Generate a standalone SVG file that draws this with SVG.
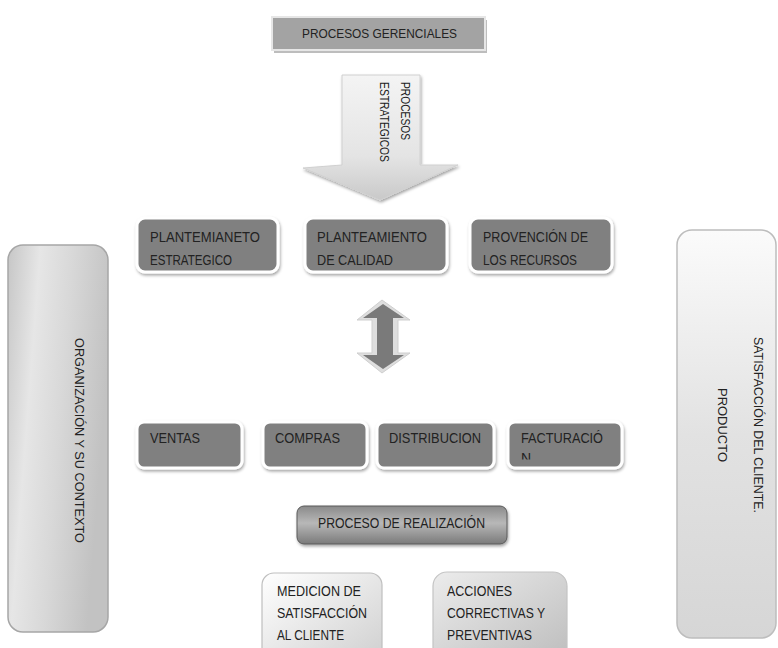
<svg xmlns="http://www.w3.org/2000/svg" width="778" height="648" viewBox="0 0 778 648">
<style>
  .t { font-family: "Liberation Sans", Arial, sans-serif; font-size: 14px; fill: #222222; }
  .r { font-size: 13px; }
  .s { font-size: 12px; }
  .dark { fill: #808080; stroke: #ffffff; stroke-width: 3; filter: url(#sh); }
</style>
<defs>
  <filter id="sh" x="-10%" y="-20%" width="120%" height="140%">
    <feDropShadow dx="1" dy="2" stdDeviation="1.5" flood-color="#000" flood-opacity="0.35"/>
  </filter>
  <clipPath id="clipN">
    <rect x="510" y="440" width="60" height="19.5"/>
  </clipPath>
  <linearGradient id="gLeft" x1="0" y1="0" x2="1" y2="0.3">
    <stop offset="0" stop-color="#c6c6c6"/>
    <stop offset="0.3" stop-color="#e6e6e6"/>
    <stop offset="0.6" stop-color="#d8d8d8"/>
    <stop offset="1" stop-color="#c2c2c2"/>
  </linearGradient>
  <linearGradient id="gRight" x1="0" y1="0" x2="0" y2="1">
    <stop offset="0" stop-color="#fbfbfb"/>
    <stop offset="0.5" stop-color="#e2e2e2"/>
    <stop offset="1" stop-color="#d6d6d6"/>
  </linearGradient>
  <linearGradient id="gReal" x1="0" y1="0" x2="0" y2="1">
    <stop offset="0" stop-color="#8a8a8a"/>
    <stop offset="0.45" stop-color="#b8b8b8"/>
    <stop offset="1" stop-color="#7a7a7a"/>
  </linearGradient>
  <linearGradient id="gMed" x1="0" y1="0" x2="1" y2="1">
    <stop offset="0" stop-color="#ffffff"/>
    <stop offset="1" stop-color="#cfcfcf"/>
  </linearGradient>
  <linearGradient id="gAcc" x1="0" y1="0" x2="1" y2="1">
    <stop offset="0" stop-color="#ececec"/>
    <stop offset="1" stop-color="#bdbdbd"/>
  </linearGradient>
  <linearGradient id="gArrow" x1="0" y1="0" x2="0" y2="1">
    <stop offset="0" stop-color="#f4f4f4"/>
    <stop offset="0.65" stop-color="#e4e4e4"/>
    <stop offset="1" stop-color="#c9c9c9"/>
  </linearGradient>
</defs>
<rect width="778" height="648" fill="#ffffff"/>

<g id="procesos-gerenciales">
  <rect x="274" y="20" width="213" height="33" fill="#bdbdbd"/>
  <rect x="272" y="17" width="213" height="33" fill="#a3a3a3" stroke="#e6e6e6" stroke-width="2"/>
  <text class="t r" x="302" y="38" textLength="155" lengthAdjust="spacingAndGlyphs">PROCESOS GERENCIALES</text>
</g>

<g id="procesos-estrategicos">
  <polygon points="342,75 420,75 420,165 458,165 380,200 303,168 342,165" fill="url(#gArrow)" stroke="#d0d0d0" stroke-width="1" filter="url(#sh)"/>
  <text class="t s" x="401" y="82" transform="rotate(90 401 82)" textLength="58" lengthAdjust="spacingAndGlyphs">PROCESOS</text>
  <text class="t s" x="380" y="82" transform="rotate(90 380 82)" textLength="80" lengthAdjust="spacingAndGlyphs">ESTRATEGICOS</text>
</g>

<g id="organizacion">
  <rect x="8" y="245" width="100" height="387" rx="15" fill="url(#gLeft)" stroke="#a6a6a6" stroke-width="1.5"/>
  <text class="t r" x="74.5" y="440.5" text-anchor="middle" transform="rotate(90 74.5 440.5)" textLength="205" lengthAdjust="spacingAndGlyphs">ORGANIZACIÓN Y SU CONTEXTO</text>
</g>

<g id="satisfaccion">
  <rect x="677" y="230" width="99" height="408" rx="15" fill="url(#gRight)" stroke="#bdbdbd" stroke-width="1.5"/>
  <text class="t r" x="753.5" y="425" text-anchor="middle" transform="rotate(90 753.5 425)" textLength="176" lengthAdjust="spacingAndGlyphs">SATISFACCIÓN DEL CLIENTE.</text>
  <text class="t r" x="717.5" y="425" text-anchor="middle" transform="rotate(90 717.5 425)" textLength="74" lengthAdjust="spacingAndGlyphs">PRODUCTO</text>
</g>

<g id="planteamiento-estrategico">
  <rect class="dark" x="137" y="218" width="141" height="54" rx="8"/>
  <text class="t" x="150" y="242" textLength="110" lengthAdjust="spacingAndGlyphs">PLANTEMIANETO</text>
  <text class="t" x="150" y="265" textLength="82" lengthAdjust="spacingAndGlyphs">ESTRATEGICO</text>
</g>
<g id="planteamiento-calidad">
  <rect class="dark" x="305" y="218" width="142" height="54" rx="8"/>
  <text class="t" x="317" y="242" textLength="110" lengthAdjust="spacingAndGlyphs">PLANTEAMIENTO</text>
  <text class="t" x="317" y="265" textLength="76" lengthAdjust="spacingAndGlyphs">DE CALIDAD</text>
</g>
<g id="provencion-recursos">
  <rect class="dark" x="470" y="218" width="142" height="54" rx="8"/>
  <text class="t" x="483" y="242" textLength="105" lengthAdjust="spacingAndGlyphs">PROVENCIÓN DE</text>
  <text class="t" x="483" y="265" textLength="94" lengthAdjust="spacingAndGlyphs">LOS RECURSOS</text>
</g>

<g id="connectors">
  <polygon points="382,300 357,320 372,320 372,353 357,353 382,373 410,353 398,353 398,320 410,320" fill="#dedede" stroke="#cfcfcf" stroke-width="1"/>
  <polygon points="383,304 363,318 377,318 377,355 363,355 383,369 404,355 393,355 393,318 404,318" fill="#7a7a7a"/>
</g>

<g id="ventas">
  <rect class="dark" x="137" y="422" width="105" height="46" rx="7"/>
  <text class="t" x="150" y="443" textLength="50" lengthAdjust="spacingAndGlyphs">VENTAS</text>
</g>
<g id="compras">
  <rect class="dark" x="263" y="422" width="104" height="46" rx="7"/>
  <text class="t" x="275" y="443" textLength="65" lengthAdjust="spacingAndGlyphs">COMPRAS</text>
</g>
<g id="distribucion">
  <rect class="dark" x="377" y="422" width="117" height="46" rx="7"/>
  <text class="t" x="389" y="443" textLength="92" lengthAdjust="spacingAndGlyphs">DISTRIBUCION</text>
</g>
<g id="facturacion">
  <rect class="dark" x="508" y="422" width="114" height="46" rx="7"/>
  <text class="t" x="521" y="443" textLength="82" lengthAdjust="spacingAndGlyphs">FACTURACIÓ</text>
  <text class="t" x="521" y="463" clip-path="url(#clipN)">N</text>
</g>

<g id="proceso-realizacion">
  <rect x="297" y="506" width="210" height="38" rx="7" fill="url(#gReal)" stroke="#5a5a5a" stroke-width="1" filter="url(#sh)"/>
  <text class="t" x="318" y="528" textLength="167" lengthAdjust="spacingAndGlyphs">PROCESO DE REALIZACIÓN</text>
</g>

<g id="medicion">
  <rect x="262" y="573" width="120" height="90" rx="12" fill="url(#gMed)" stroke="#bfbfbf" stroke-width="1.2"/>
  <text class="t" x="277" y="596" textLength="84" lengthAdjust="spacingAndGlyphs">MEDICION DE</text>
  <text class="t" x="277" y="618" textLength="90" lengthAdjust="spacingAndGlyphs">SATISFACCIÓN</text>
  <text class="t" x="277" y="640" textLength="67" lengthAdjust="spacingAndGlyphs">AL CLIENTE</text>
</g>

<g id="acciones">
  <rect x="433" y="572" width="134" height="90" rx="14" fill="url(#gAcc)" stroke="#c4c4c4" stroke-width="1.2"/>
  <text class="t" x="447" y="596" textLength="65" lengthAdjust="spacingAndGlyphs">ACCIONES</text>
  <text class="t" x="447" y="618" textLength="98" lengthAdjust="spacingAndGlyphs">CORRECTIVAS Y</text>
  <text class="t" x="447" y="640" textLength="85" lengthAdjust="spacingAndGlyphs">PREVENTIVAS</text>
</g>
</svg>
